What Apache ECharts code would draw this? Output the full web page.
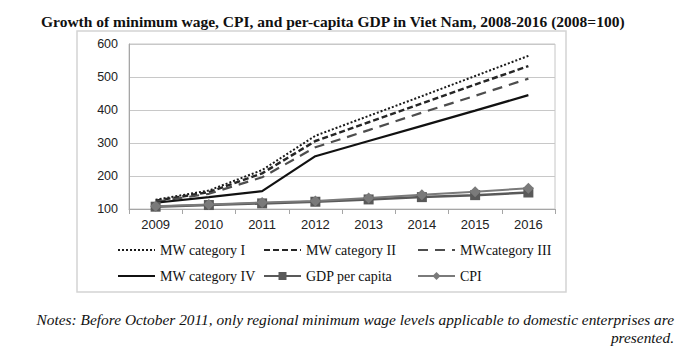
<!DOCTYPE html>
<html>
<head>
<meta charset="utf-8">
<script src="https://cdn.jsdelivr.net/npm/echarts@6/dist/echarts.min.js"></script>
<style>
  html, body { margin: 0; padding: 0; background: #fff; }
  #chart { width: 680px; height: 352px; }
</style>
</head>
<body>
<div id="chart"></div>
<script>
const years = ['2009', '2010', '2011', '2012', '2013', '2014', '2015', '2016'];
const mwCat1 = [128, 156, 218, 322, 382, 442, 503, 564];
const mwCat2 = [125, 151, 208, 306, 363, 420, 477, 533];
const mwCat3 = [122, 146, 196, 287, 339, 392, 443, 495];
const mwCat4 = [119, 136, 154, 260, 306, 352, 398, 445];
const gdpPerCapita = [107, 112, 117, 122, 129, 136, 142, 150];
const cpi = [108, 114, 120, 124, 133, 143, 152, 163];

const serif = '"Liberation Serif", "Times New Roman", serif';
const sans = '"Liberation Sans", Arial, sans-serif';

const chart = echarts.init(document.getElementById('chart'), null, { renderer: 'svg' });

// line-only legend entries: hide the default marker, keep the line
const lineOnly = name => ({ name: name, itemStyle: { opacity: 0, borderWidth: 0 } });

const legendBase = {
  orient: 'vertical',
  top: 238,
  itemGap: 12,
  itemWidth: 37,
  itemHeight: 10,
  textStyle: { fontFamily: serif, fontSize: 14, color: '#111' },
  selectedMode: false
};

const option = {
  animation: false,
  title: {
    text: 'Growth of minimum wage, CPI, and per-capita GDP in Viet Nam, 2008-2016 (2008=100)',
    left: 36,
    top: 8,
    textStyle: { fontFamily: serif, fontSize: 15.5, fontWeight: 'bold', color: '#111' }
  },
  graphic: [
    {
      type: 'rect',
      shape: { x: 77, y: 31, width: 489, height: 261 },
      style: { fill: 'none', stroke: '#d4d4d4', lineWidth: 1.5 },
      silent: true
    },
    {
      type: 'text',
      x: 674,
      y: 310,
      style: {
        text: 'Notes: Before October 2011, only regional minimum wage levels applicable to domestic enterprises are\npresented.',
        align: 'right',
        font: 'italic 15.4px ' + serif,
        fill: '#111',
        lineHeight: 18
      },
      silent: true
    }
  ],
  legend: [
    Object.assign({ left: 112, data: [lineOnly('MW category I'), lineOnly('MW category IV')] }, legendBase),
    Object.assign({ left: 258, data: [lineOnly('MW category II'), 'GDP per capita'] }, legendBase),
    Object.assign({ left: 412, data: [lineOnly('MWcategory III'), 'CPI'] }, legendBase)
  ],
  grid: {
    left: 129,
    right: 125,
    top: 44,
    bottom: 143,
    show: true,
    borderColor: '#c6c6c6',
    borderWidth: 1
  },
  xAxis: {
    type: 'category',
    data: years,
    boundaryGap: true,
    axisLine: { lineStyle: { color: '#a6a6a6', width: 1 } },
    axisTick: { show: true, length: 5, lineStyle: { color: '#a6a6a6' } },
    axisLabel: { fontFamily: sans, fontSize: 13, color: '#222', margin: 9 }
  },
  yAxis: {
    type: 'value',
    min: 100,
    max: 600,
    interval: 100,
    axisLine: { show: true, lineStyle: { color: '#a6a6a6', width: 1 } },
    axisTick: { show: false },
    axisLabel: { fontFamily: sans, fontSize: 12.5, color: '#222', margin: 11 },
    splitLine: { lineStyle: { color: '#c8c8c8', width: 1 } }
  },
  series: [
    {
      name: 'MW category I', type: 'line', data: mwCat1, symbol: 'none',
      itemStyle: { color: '#1a1a1a' },
      lineStyle: { color: '#1a1a1a', width: 2, type: [2, 2] }
    },
    {
      name: 'MW category II', type: 'line', data: mwCat2, symbol: 'none',
      itemStyle: { color: '#262626' },
      lineStyle: { color: '#262626', width: 2.5, type: [6, 3] }
    },
    {
      name: 'MWcategory III', type: 'line', data: mwCat3, symbol: 'none',
      itemStyle: { color: '#4d4d4d' },
      lineStyle: { color: '#4d4d4d', width: 2.2, type: [10, 7] }
    },
    {
      name: 'MW category IV', type: 'line', data: mwCat4, symbol: 'none',
      itemStyle: { color: '#111' },
      lineStyle: { color: '#111', width: 2.2 }
    },
    {
      name: 'GDP per capita', type: 'line', data: gdpPerCapita,
      symbol: 'rect', symbolSize: 10,
      itemStyle: { color: '#595959' },
      lineStyle: { color: '#595959', width: 2.5 }
    },
    {
      name: 'CPI', type: 'line', data: cpi,
      symbol: 'diamond', symbolSize: 11,
      itemStyle: { color: '#7a7a7a' },
      lineStyle: { color: '#7a7a7a', width: 2 }
    }
  ]
};

chart.setOption(option);
</script>
</body>
</html>
